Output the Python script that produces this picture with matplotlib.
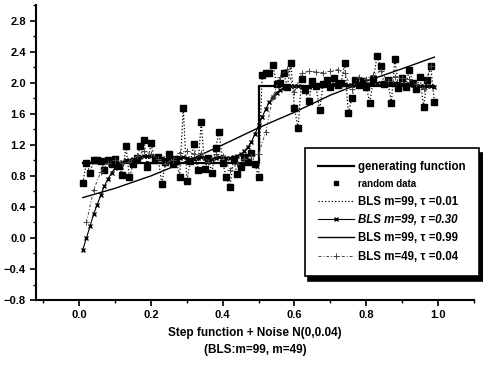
import numpy as np
import matplotlib.pyplot as plt
from matplotlib.ticker import MultipleLocator

plt.rcParams['font.family'] = ['Liberation Sans', 'DejaVu Sans']
plt.rcParams['font.weight'] = 'bold'

# x positions of the 99 samples and of the 49-point fit
x99 = np.round(np.arange(1, 100) * 0.01, 2)
x49 = np.round(np.arange(1, 50) * 0.02, 2)

# noisy samples of the step function
random_data = [
    0.71, 0.97, 0.84, 1.00, 1.01, 0.99, 0.88, 1.00, 0.95, 1.02,
    0.93, 0.81, 1.18, 0.78, 0.95, 1.03, 1.18, 1.26, 0.92, 1.22,
    1.00, 1.04, 0.69, 0.98, 1.08, 0.95, 1.02, 0.79, 1.68, 0.74,
    0.99, 1.21, 0.87, 1.49, 0.89, 1.03, 0.84, 1.16, 1.36, 0.97,
    0.78, 0.65, 1.02, 0.82, 0.91, 1.04, 0.98, 1.10, 0.95, 0.79,
    2.10, 2.12, 2.13, 2.23, 1.98, 2.00, 2.12, 1.95, 2.25, 1.67,
    1.42, 2.05, 1.90, 1.76, 2.02, 1.96, 1.65, 1.98, 2.03, 1.94,
    2.06, 1.97, 2.00, 2.25, 1.61, 1.80, 2.04, 1.97, 2.02, 1.95,
    1.74, 2.05, 2.34, 2.21, 1.98, 2.03, 1.74, 2.31, 1.93, 2.06,
    1.95, 2.17, 2.00, 1.92, 2.08, 1.69, 2.04, 2.21, 1.75,
]

# generating function (step)
gen_x = [0.01, 0.50, 0.50, 0.99]
gen_y = [0.97, 0.97, 1.96, 1.96]

# BLS m=99, tau=0.01 passes through the samples
bls_99_001 = random_data

# BLS m=99, tau=0.30
bls_99_030 = [
    -0.15, 0.00, 0.15, 0.31, 0.43, 0.55, 0.67, 0.76, 0.84, 0.90,
    0.95, 0.98, 1.00, 1.01, 1.02, 1.03, 1.04, 1.05, 1.05, 1.05,
    1.04, 1.04, 1.03, 1.02, 1.02, 1.02, 1.02, 1.03, 1.04, 1.03,
    1.02, 1.02, 1.03, 1.04, 1.03, 1.02, 1.02, 1.03, 1.04, 1.04,
    1.03, 1.03, 1.04, 1.06, 1.08, 1.12, 1.17, 1.24, 1.34, 1.45,
    1.56, 1.66, 1.75, 1.82, 1.87, 1.91, 1.93, 1.95, 1.96, 1.96,
    1.96, 1.95, 1.95, 1.95, 1.96, 1.96, 1.96, 1.97, 1.97, 1.97,
    1.98, 1.98, 1.98, 1.98, 1.97, 1.97, 1.97, 1.97, 1.98, 1.98,
    1.98, 1.99, 2.00, 2.00, 2.00, 1.99, 1.99, 1.99, 1.99, 1.98,
    1.98, 1.98, 1.97, 1.96, 1.96, 1.96, 1.96, 1.96, 1.95,
]

# BLS m=99, tau=0.99 (almost a straight line)
bls_99_099_x = [0.01, 0.10, 0.20, 0.30, 0.40, 0.50, 0.60, 0.70, 0.80, 0.90, 0.99]
bls_99_099 = [0.52, 0.64, 0.80, 0.99, 1.20, 1.42, 1.62, 1.84, 2.02, 2.18, 2.33]

# BLS m=49, tau=0.04
bls_49_004 = [
    0.20, 0.62, 0.85, 0.97, 1.00, 0.96, 0.98, 1.05, 1.12, 1.08,
    1.02, 0.95, 1.00, 1.10, 1.12, 1.08, 1.10, 0.98, 1.08, 1.05,
    0.88, 0.95, 1.02, 1.05, 1.08, 1.37, 1.82, 2.08, 2.18, 1.88,
    2.12, 2.15, 2.14, 2.13, 2.15, 2.17, 2.12, 1.92, 2.08, 2.05,
    2.10, 2.15, 2.02, 2.08, 2.06, 2.05, 1.98, 1.92, 2.22,
]

fig = plt.figure(figsize=(4.83, 3.65), dpi=100)
ax = fig.add_axes([0.075, 0.178, 0.906, 0.808])

ax.plot(gen_x, gen_y, color='black', lw=1.6, label='generating function')
ax.plot(x99, random_data, ls='none', marker='s', ms=5, color='black',
        label='random data')
ax.plot(x99, bls_99_001, ls=':', lw=0.9, color='black',
        label='BLS m=99, τ =0.01')
ax.plot(x99, bls_99_030, ls='-', lw=0.8, color='black', marker='x', ms=3.5,
        mew=1.0, label='BLS m=99, τ =0.30')
ax.plot(bls_99_099_x, bls_99_099, ls='-', lw=1.0, color='black',
        label='BLS m=99, τ =0.99')
ax.plot(x49, bls_49_004, ls=(0, (3, 2, 1, 2)), lw=0.7, color='#444444',
        marker='+', ms=4, mew=0.7, label='BLS m=49, τ =0.04')

ax.set_xlim(-0.12, 1.1)
ax.set_ylim(-0.8, 3.0)
ax.xaxis.set_minor_locator(MultipleLocator(0.1))
ax.yaxis.set_minor_locator(MultipleLocator(0.2))
ax.set_yticks(np.round(np.arange(-0.8, 2.81, 0.4), 1))
ax.set_xticks(np.round(np.arange(0.0, 1.01, 0.2), 1))
ax.spines['top'].set_visible(False)
ax.spines['right'].set_visible(False)
for s in ['left', 'bottom']:
    ax.spines[s].set_linewidth(1.5)
ax.tick_params(which='major', direction='out', length=4, width=1.2,
               labelsize=8)
ax.tick_params(which='minor', direction='out', length=2.5, width=1.0)

ax.set_xlabel('Step function + Noise N(0,0.04)\n(BLS:m=99, m=49)',
              fontsize=8.5, fontweight='bold', labelpad=5, linespacing=1.5)

leg = ax.legend(loc='lower right', bbox_to_anchor=(0.992, 0.244),
                bbox_transform=fig.transFigure, borderaxespad=0,
                fontsize=8.3, frameon=True, fancybox=False,
                shadow={'color': 'black', 'alpha': 1.0, 'ox': 2.5, 'oy': -3.5},
                edgecolor='black', handlelength=3.1, handletextpad=0.4,
                labelspacing=0.55, borderpad=1.15)
leg.get_frame().set_linewidth(1.2)
leg.get_texts()[1].set_fontsize(7)
leg.get_texts()[3].set_fontstyle('italic')
leg.legend_handles[1].set_markersize(3.5)

fig.savefig('out.png', dpi=100)
